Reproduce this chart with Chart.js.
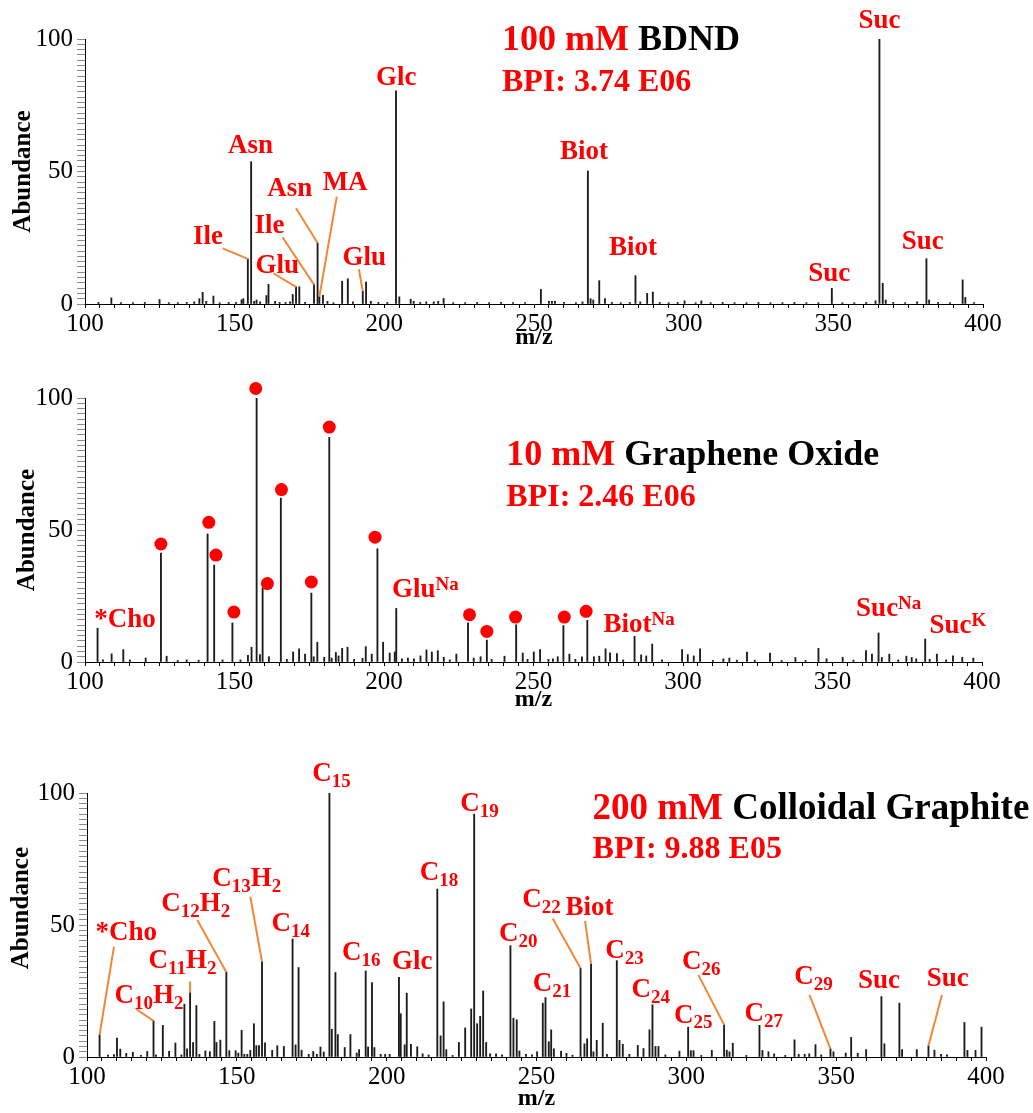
<!DOCTYPE html>
<html>
<head>
<meta charset="utf-8">
<title>MALDI spectra</title>
<script src="https://cdn.jsdelivr.net/npm/chart.js@4.4.1/dist/chart.umd.min.js"></script>
<style>
  html, body { margin: 0; padding: 0; background: #fff; }
  #wrap { position: relative; width: 1033px; height: 1113px; overflow: hidden; }
  #wrap canvas { position: absolute; left: 0; }
</style>
</head>
<body>
<div id="wrap">
  <canvas id="bdnd" width="1033" height="360" style="top:0px"></canvas>
  <canvas id="go" width="1033" height="360" style="top:360px"></canvas>
  <canvas id="graphite" width="1033" height="393" style="top:720px"></canvas>
</div>
<script>
// ---------- axis ticks ----------
const mzTicks = [100, 150, 200, 250, 300, 350, 400];
const abundanceTicks = [0, 50, 100];

// ---------- spectra: [m/z, relative abundance %] ----------
const bdndPeaks = [
  [104.5,0.6],[108.8,2.3],[112,0.5],[116,0.5],[120,0.6],[124.9,1.7],[128,0.5],[131,0.5],[134,0.6],
  [136.5,0.8],[138.2,2.0],[139.3,4.4],[140.5,1.0],[142.9,3.0],[145,0.5],[148,0.6],[150.5,0.6],
  [152.3,1.6],[152.9,2.0],[154.4,17.0],[155.5,53.7],[156.5,1.0],[157.3,1.5],[158.5,0.8],[160.6,3.2],
  [161.3,7.4],[163.5,1.0],[165,0.6],[167,0.6],[168.5,0.8],[169.4,3.6],[170.5,6.5],[171.6,6.5],
  [173.5,0.6],[176.5,7.3],[177.7,23.0],[178.3,2.8],[179.5,3.3],[181,1.0],[183,0.5],[185.9,8.6],
  [187.8,9.5],[189.5,0.8],[192.8,4.8],[193.9,8.3],[195.5,1.0],[198,0.6],[201,0.6],[203.9,80.4],
  [205,2.7],[208.8,1.8],[209.8,1.0],[212,0.6],[214,0.8],[216.5,0.8],[218,1.0],[219.8,2.1],[223,0.5],
  [227,0.5],[231,0.6],[235,0.5],[239,0.6],[243,0.5],[247,0.5],[252.3,5.5],[255,1.0],[256,1.0],
  [257,1.0],[260,0.6],[264,0.5],[266.2,0.8],[268.0,50.2],[268.9,2.0],[269.8,1.5],[271.8,8.8],
  [273.7,2.0],[276,0.6],[279,0.5],[282,0.6],[283.9,10.7],[285.5,0.8],[287.8,4.0],[289.7,4.5],
  [292,0.6],[295,0.5],[298,0.6],[300.3,1.2],[304,0.5],[305.9,1.2],[309,0.5],[313,0.6],[317,0.5],
  [321,0.5],[325,0.6],[329,0.5],[333,0.5],[337,0.6],[341,0.5],[345,0.5],[349.5,5.9],[353,0.5],
  [357,0.5],[361,0.6],[364.1,1.2],[365.4,100],[366.5,7.8],[367.5,1.5],[370,0.6],[374,0.5],[378,0.8],
  [381.1,17.1],[382,1.5],[385,0.6],[389,0.5],[393.2,9.1],[394.1,2.5],[397,0.5]
];

const goPeaks = [
  [104.2,12.8],[106,0.8],[108.9,3.1],[112.8,4.7],[115,0.8],[120.3,1.5],[125.4,41.3],[127.3,2.2],
  [131,0.6],[134,0.8],[138,0.7],[141,48.5],[143.2,36.7],[146,0.8],[149.3,14.8],[152,0.8],[154.5,2.5],
  [155.7,5.6],[157.4,100],[158.5,2.8],[159.4,28],[161.5,2],[165.5,62.1],[167.5,1],[169.6,3.8],
  [171.6,5],[173.6,3],[175.7,26.1],[176.5,2],[177.7,7.5],[180,1.8],[181.7,85.1],[182.5,1.5],
  [183.9,3.6],[184.8,2.3],[186,5.2],[187.8,5.6],[190,1],[192.8,1.4],[193.9,5.8],[195.9,3],
  [197.8,42.9],[199.7,7.5],[201.9,3.4],[203.6,3.8],[204.1,20.3],[206,1.2],[208,1.5],[210,1.2],
  [212.2,2.3],[214.2,4.6],[216,3.8],[218,4.3],[220,1.8],[222,0.8],[224.2,3],[228.1,14.8],[230,1.5],
  [232.3,2],[234.4,8.3],[236,1],[240.3,2.2],[244.2,14.1],[246.4,3.4],[248,1],[250.1,3.8],[252.2,4.7],
  [255,1],[256.5,1.2],[258.1,2],[260,13.8],[262,3],[264,1],[266.2,2],[268,15.8],[270.2,2],[272,2.2],
  [274.1,5],[275.6,3.5],[277.9,3.2],[280,0.8],[283.8,9.7],[286,2.7],[287.7,2.3],[289.7,6.8],[293,0.8],
  [299.7,4.7],[301.6,2.8],[303.6,2.3],[305.7,5],[310,0.6],[313.5,1.2],[315.5,1.5],[318,0.7],
  [321.4,3.8],[324,0.7],[329.1,3.4],[333,0.6],[337.6,1.7],[341,0.6],[345.3,5.2],[348,1.2],
  [353.4,1.8],[357,0.7],[361.2,4.3],[363.2,3],[365.4,11],[366.5,1.7],[369,3],[372,0.8],[374.7,2.2],
  [376.5,1.7],[378,1.2],[381,8.7],[382.5,1],[384.9,3],[388,0.8],[390.3,2.3],[393.4,1.8],[397.1,1.5]
];

// red dots above the carbon-cluster peaks of the graphene oxide run: [m/z, height]
const goDots = [
  [125.4,44.7],[141.4,52.9],[143.8,40.5],[149.8,18.9],[157.1,103.6],[161,29.7],[165.7,65.3],
  [175.7,30.3],[181.7,89],[197,47.3],[228.6,17.9],[234.4,11.6],[244,17],[260.3,17],[267.6,19.2]
];

const graphitePeaks = [
  [104.2,8.4],[107,0.7],[109,0.9],[110,7.2],[111.1,3],[113.1,1.4],[115.3,1.8],[118,0.6],[120.1,2.1],
  [122.2,13.7],[123,0.8],[125.3,12],[127.4,2.2],[129.5,5.3],[131.5,0.8],[132.5,20],[133.4,3.1],
  [134.4,24.4],[135.4,5.5],[136.5,19.5],[137.5,1],[139.5,2.3],[141,2],[142.5,13.5],[143.2,5.5],
  [144.5,6.4],[146.5,32.1],[147.5,2.4],[149.6,2.4],[150.5,1.5],[151.6,10.1],[152.5,1],[153.5,1],
  [154.5,2.5],[155.7,12.6],[156.5,4.3],[157.4,4.3],[158.4,36.1],[159.4,5.4],[161.8,2.5],[163.5,4.3],
  [165.7,4],[168.6,44.7],[169.6,4.6],[170.6,33.9],[171.6,2.6],[174,1],[175.5,2.1],[176.7,1],
  [177.9,3.8],[179,1.9],[180.9,100],[181.7,10.5],[182.9,32],[183.7,8.5],[186,3.6],[187.9,8.5],
  [190,1.5],[190.8,2.8],[193,32.6],[193.8,3.8],[195.1,28.2],[195.9,3.6],[198,1],[199.5,1],[201,1],
  [204.1,30.2],[204.7,16.4],[206,4.6],[206.7,24.2],[208.1,4.8],[210.2,3.9],[212,1.2],[214,0.8],
  [216.9,63.6],[218,8],[219,20.9],[219.9,2.8],[222,0.6],[224.1,5.5],[226.2,11],[228.2,18.2],
  [229.2,92],[230.2,12.6],[231.2,15.4],[232.2,25],[233.2,5.5],[234.5,1.2],[236.5,1.2],[238.5,0.8],
  [241.3,42.2],[242.3,14.7],[243.4,14.1],[244.3,2.3],[246.5,1],[248.5,0.8],[250.2,2],[252.1,20.4],
  [253,22.5],[254.1,5.8],[254.9,10.3],[255.8,3.1],[258.2,2.2],[260,1.4],[262,0.7],[264.7,33.6],
  [266,5],[266.9,6.9],[268.2,35.3],[269,2],[270.1,6.3],[272.1,12.8],[273.5,1],[276.8,36.5],
  [277.7,6.3],[278.8,4.8],[281,1],[283.8,4.4],[285.7,3.2],[287.7,10.3],[288.7,19.8],[289.7,4],
  [290.7,4],[293,0.8],[297.7,2.2],[300.6,11.3],[301.5,2.4],[302.4,2.4],[305,0.6],[308.5,2.5],
  [312.6,12.2],[313.5,2.6],[314.4,2],[315.5,5.2],[320,0.6],[324.4,12],[325.4,2.5],[327.4,2],
  [329.3,1.2],[333,0.6],[336.1,6.5],[337.5,1],[339.5,1],[341,1.2],[343.1,4.7],[345,0.8],[348.1,3.1],
  [349.1,2],[353.2,1.5],[355,7.4],[357.2,1.4],[360,2.8],[365.1,22.9],[366.1,5],[371.1,20.4],
  [372,2.8],[376.9,2.8],[380.8,4.3],[382.8,2.6],[385,1],[387,0.8],[392.8,13.1],[393.8,2.5],
  [396.5,2.5],[398.5,11.3]
];

// ---------- peak assignments ----------
// text: "_" starts a subscript, "^" a superscript
// at: text centre [m/z, abundance]; from + peak: orange leader to that peak's top
const bdndLabels = [
  { text: 'Suc',  at: [365.4, 106.8] },
  { text: 'Glc',  at: [204.0, 85.4] },
  { text: 'Asn',  at: [155.3, 59.6] },
  { text: 'Biot', at: [266.7, 57.2] },
  { text: 'Biot', at: [283.1, 21.3] },
  { text: 'Suc',  at: [348.6, 11.3] },
  { text: 'Suc',  at: [379.9, 23.2] },
  { text: 'Ile',  at: [141.1, 25.1], from: [146.0, 21.0], peak: 154.4 },
  { text: 'Ile',  at: [161.6, 29.5], from: [166.0, 25.2], peak: 176.5 },
  { text: 'Glu',  at: [164.2, 14.3], from: [162.9, 11.6], peak: 170.5 },
  { text: 'Asn',  at: [168.4, 43.4], from: [170.5, 36.1], peak: 177.7 },
  { text: 'MA',   at: [186.9, 45.8], from: [184.1, 40.5], peak: 178.3 },
  { text: 'Glu',  at: [193.3, 17.5], from: [191.5, 13.1], peak: 192.8 }
];

const goLabels = [
  { text: '*Cho',    at: [113.4, 15.8] },
  { text: 'Glu^Na',  at: [213.8, 27.4] },
  { text: 'Biot^Na', at: [285.3, 14.1] },
  { text: 'Suc^Na',  at: [368.8, 20.1] },
  { text: 'Suc^K',   at: [391.9, 13.5] }
];

const graphiteLabels = [
  { text: 'C_15',    at: [181.6, 107.0] },
  { text: 'C_19',    at: [231.0, 95.8] },
  { text: 'C_18',    at: [217.5, 69.7] },
  { text: 'C_14',    at: [168.0, 50.2] },
  { text: 'C_16',    at: [191.5, 39.4] },
  { text: 'Glc',     at: [208.5, 35.8] },
  { text: 'C_20',    at: [243.9, 46.5] },
  { text: 'C_23',    at: [279.4, 40.2] },
  { text: 'C_21',    at: [255.2, 27.6] },
  { text: 'C_24',    at: [288.1, 25.4] },
  { text: 'C_25',    at: [302.3, 15.7] },
  { text: 'C_27',    at: [325.8, 16.3] },
  { text: 'Suc',     at: [364.3, 28.9] },
  { text: 'C_13H_2', at: [153.3, 67.3], from: [154.5, 60.7], peak: 158.4 },
  { text: 'C_12H_2', at: [136.3, 57.9], from: [136.8, 51.9], peak: 146.5 },
  { text: 'C_11H_2', at: [131.9, 36.5], from: [134.4, 28.6], peak: 134.4 },
  { text: 'C_10H_2', at: [120.7, 23.2], from: [116.5, 18.1], peak: 122.2 },
  { text: '*Cho',    at: [113.1, 46.9], from: [109.0, 41.8], peak: 104.2 },
  { text: 'C_22',    at: [251.7, 59.4], from: [255.4, 52.5], peak: 264.7 },
  { text: 'Biot',    at: [267.7, 56.6], from: [266.2, 51.6], peak: 268.2 },
  { text: 'C_26',    at: [305.0, 35.8], from: [304.0, 31.1], peak: 312.6 },
  { text: 'C_29',    at: [342.4, 30.2], from: [341.1, 23.5], peak: 348.1 },
  { text: 'Suc',     at: [387.2, 29.5], from: [385.3, 23.5], peak: 380.8 }
];

// ---------- sample headings ----------
const bdndHeading     = { conc: '100 mM ', name: 'BDND',               bpi: 'BPI: 3.74 E06' };
const goHeading       = { conc: '10 mM ',  name: 'Graphene Oxide',     bpi: 'BPI: 2.46 E06' };
const graphiteHeading = { conc: '200 mM ', name: 'Colloidal Graphite', bpi: 'BPI: 9.88 E05' };

// ---------- styling ----------
const SERIF = '"Liberation Serif", "Times New Roman", Times, serif';
const RED = '#ff0000';
const ORANGE = '#ef8838';
const STICK = '#1c1c1c';
const LABEL_SIZE = 27;
const DOT_RADIUS = 6.5;

Chart.defaults.font.family = SERIF;
Chart.defaults.color = '#000';

function boldFont(size) { return 'bold ' + size + 'px ' + SERIF; }

// split "C_13H_2" / "Glu^Na" into runs of normal, subscript and superscript text
function richRuns(str) {
  return str.split(/(_[0-9]+|\^[A-Za-z]+)/).filter(s => s.length).map(s => {
    if (s[0] === '_') return { t: s.slice(1), small: true, dy: 8 };
    if (s[0] === '^') return { t: s.slice(1), small: true, dy: -5 };
    return { t: s, small: false, dy: 0 };
  });
}

function drawRich(ctx, str, cx, cy, size, color) {
  const runs = richRuns(str);
  const small = Math.round(size * 0.69);
  let total = 0;
  runs.forEach(r => {
    ctx.font = boldFont(r.small ? small : size);
    r.w = ctx.measureText(r.t).width;
    total += r.w;
  });
  let x = cx - total / 2;
  ctx.fillStyle = color;
  ctx.textAlign = 'left';
  ctx.textBaseline = 'middle';
  runs.forEach(r => {
    ctx.font = boldFont(r.small ? small : size);
    ctx.fillText(r.t, x, cy + r.dy);
    x += r.w;
  });
}

function peakTop(peaks, mz) {
  let best = peaks[0];
  peaks.forEach(p => { if (Math.abs(p[0] - mz) < Math.abs(best[0] - mz)) best = p; });
  return best;
}

// draws marker dots, peak names, leader lines, the sample heading and the y-axis title
function annotator(panel) {
  return {
    id: 'annotator',
    afterDatasetsDraw(chart) {
      const ctx = chart.ctx;
      const xs = chart.scales.x, ys = chart.scales.y;
      const px = v => xs.getPixelForValue(v);
      const py = v => ys.getPixelForValue(v);
      ctx.save();

      // dots (may sit above the 100 % line, so they are not clipped to the plot area)
      if (panel.dots) {
        ctx.fillStyle = RED;
        panel.dots.forEach(([mz, ab]) => {
          ctx.beginPath();
          ctx.arc(px(mz), py(ab), DOT_RADIUS, 0, Math.PI * 2);
          ctx.fill();
        });
      }

      // leader lines
      ctx.strokeStyle = ORANGE;
      ctx.lineWidth = 2;
      ctx.lineCap = 'butt';
      panel.labels.forEach(l => {
        if (!l.from) return;
        const top = peakTop(panel.peaks, l.peak);
        ctx.beginPath();
        ctx.moveTo(px(l.from[0]), py(l.from[1]));
        ctx.lineTo(px(top[0]), py(top[1]));
        ctx.stroke();
      });

      // peak names
      panel.labels.forEach(l => drawRich(ctx, l.text, px(l.at[0]), py(l.at[1]), LABEL_SIZE, RED));

      // heading
      const h = panel.heading;
      const hx = px(panel.headingAt[0]);
      ctx.textAlign = 'left';
      ctx.textBaseline = 'middle';
      ctx.font = boldFont(panel.headingSize);
      ctx.fillStyle = RED;
      ctx.fillText(h.conc, hx, py(panel.headingAt[1]));
      const w = ctx.measureText(h.conc).width;
      ctx.fillStyle = '#000';
      ctx.fillText(h.name, hx + w, py(panel.headingAt[1]));
      ctx.font = boldFont(32);
      ctx.fillStyle = RED;
      ctx.fillText(h.bpi, hx, py(panel.bpiAt));

      // y-axis title
      ctx.translate(panel.yTitleX, py(panel.yTitleAt));
      ctx.rotate(-Math.PI / 2);
      ctx.textAlign = 'center';
      ctx.font = boldFont(25);
      ctx.fillStyle = '#000';
      ctx.fillText('Abundance', 0, 0);

      ctx.restore();
    }
  };
}

const panels = [
  { canvas: 'bdnd', peaks: bdndPeaks, labels: bdndLabels, heading: bdndHeading,
    headingAt: [239.3, 99.2], bpiAt: 83.5, headingSize: 36,
    area: { left: 85, right: 983, top: 39, bottom: 304 }, yTitleX: 24, yTitleAt: 50, xTitlePad: 10 },
  { canvas: 'go', peaks: goPeaks, dots: goDots, labels: goLabels, heading: goHeading,
    headingAt: [240.9, 78.1], bpiAt: 62.4, headingSize: 36,
    area: { left: 85, right: 982, top: 38, bottom: 302 }, yTitleX: 28, yTitleAt: 50, xTitlePad: 8 },
  { canvas: 'graphite', peaks: graphitePeaks, labels: graphiteLabels, heading: graphiteHeading,
    headingAt: [268.7, 93.8], bpiAt: 78.5, headingSize: 37,
    area: { left: 87, right: 986, top: 73, bottom: 337 }, yTitleX: 22, yTitleAt: 56.4, xTitlePad: 2 }
];

function buildChart(panel) {
  const canvas = document.getElementById(panel.canvas);
  const W = canvas.width, H = canvas.height;
  return new Chart(canvas, {
    type: 'bar',
    data: {
      datasets: [{
        data: panel.peaks.map(([mz, ab]) => ({ x: mz, y: ab })),
        backgroundColor: STICK,
        borderWidth: 0,
        barThickness: 1.2
      }]
    },
    options: {
      responsive: false,
      animation: false,
      devicePixelRatio: 1,
      events: [],
      layout: { padding: { left: 0, top: panel.area.top, right: W - panel.area.right, bottom: 0 } },
      plugins: { legend: { display: false }, tooltip: { enabled: false } },
      scales: {
        x: {
          type: 'linear', min: 100, max: 400, offset: false,
          grid: { offset: false, drawOnChartArea: false, drawTicks: true, tickLength: 4, tickColor: '#000', tickWidth: 1 },
          border: { color: '#000', width: 1 },
          ticks: {
            stepSize: 5, autoSkip: false, maxRotation: 0, minRotation: 0, padding: 1,
            color: '#000', font: { size: 25 },
            callback: v => (mzTicks.includes(v) ? String(v) : '')
          },
          title: {
            display: true, text: 'm/z', color: '#000',
            font: { size: 24, weight: 'bold', lineHeight: 1 },
            padding: { top: 0, bottom: panel.xTitlePad }
          },
          afterFit: s => { s.height = H - panel.area.bottom; }
        },
        y: {
          min: 0, max: 100,
          grid: { drawOnChartArea: false, drawTicks: true, tickLength: 8, tickColor: '#8c8c8c', tickWidth: 1 },
          border: { color: '#000', width: 1 },
          ticks: {
            stepSize: 2, autoSkip: false, padding: 4, color: '#000', font: { size: 25 },
            callback: v => (abundanceTicks.includes(v) ? String(v) : '')
          },
          afterFit: s => { s.width = panel.area.left; }
        }
      }
    },
    plugins: [annotator(panel)]
  });
}

panels.forEach(buildChart);
</script>
</body>
</html>
